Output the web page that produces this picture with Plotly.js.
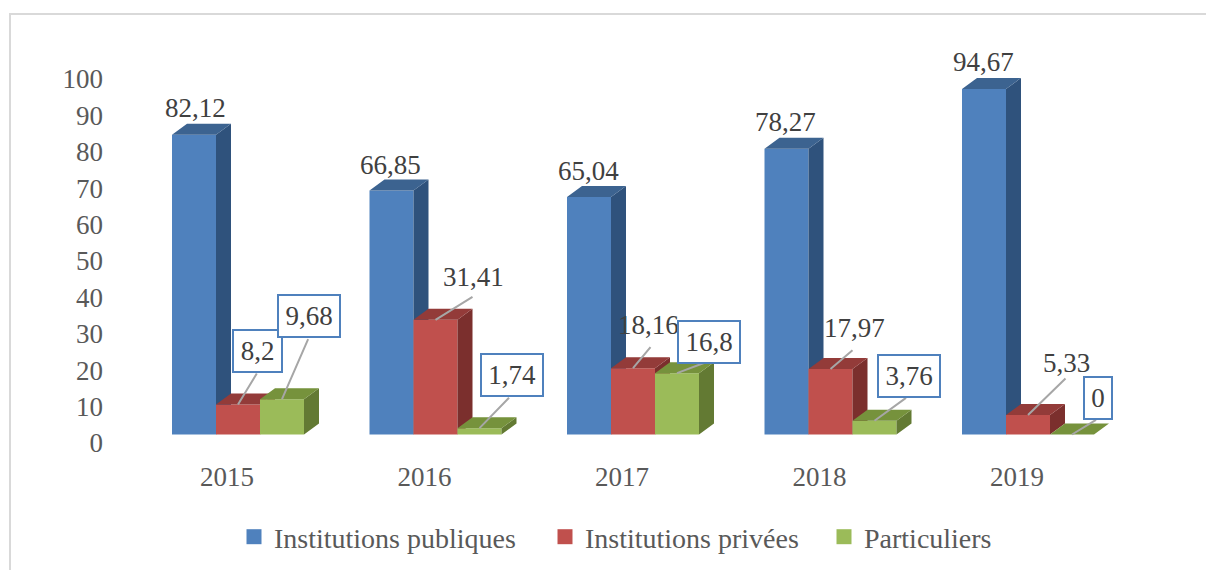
<!DOCTYPE html>
<html><head><meta charset="utf-8">
<script src="https://cdn.plot.ly/plotly-3.0.1.min.js"></script>
<style>html,body{margin:0;padding:0;background:#fff;overflow:hidden}</style>
</head><body><div id="chart" style="width:1206px;height:570px"></div>
<script>
// ---- data ----
const years = ['2015','2016','2017','2018','2019'];
const publiques = [82.12,66.85,65.04,78.27,94.67];
const privees = [8.2,31.41,18.16,17.97,5.33];
const particuliers = [9.68,1.74,16.8,3.76,0];
const seriesNames = ['Institutions publiques','Institutions privées','Particuliers'];
const tickValues = [0,10,20,30,40,50,60,70,80,90,100];

// ---- geometry of the page ----
const W=1206,H=570, L=104,R=1190,T=60,B=458;
const pxPerYear=197.5, firstCenter=238;
const barPx=44, depthX=15, depthY=11;
const frontBase=434.5, frontScale=3.65;   // bars
const tickBase=443, tickScale=3.64;       // value-axis labels sit lower than the front plane
const xRange=[(L-firstCenter)/pxPerYear,(R-firstCenter)/pxPerYear];
const barRange=[(frontBase-B)/frontScale,(frontBase-T)/frontScale];
const tickRange=[(tickBase-B)/tickScale,(tickBase-T)/tickScale];
const w=barPx/pxPerYear, dx=depthX/pxPerYear, dy=depthY/frontScale;
const idx=years.map((_,i)=>i);

const styles=[
 {front:'#4f81bd',side:'#2f527c',top:'#3c6390',off:-1.5*w},
 {front:'#c0504d',side:'#7b2f2d',top:'#933b39',off:-0.5*w},
 {front:'#9bbb59',side:'#637a33',top:'#76923c',off:0.5*w}
];
const allValues=[publiques,privees,particuliers];

function poly(kind,off){
  return function(values){
    const xs=[],ys=[];
    values.forEach((v,i)=>{
      const a=i+off,b=a+w;
      if(kind==='top'){ xs.push(a,b,b+dx,a+dx,a,null); ys.push(v,v,v+dy,v+dy,v,null); }
      else { xs.push(b,b+dx,b+dx,b,b,null); ys.push(0,dy,v+dy,v,0,null); }
    });
    return {xs,ys};
  };
}
const traces=[];
// swatches for legends on the base subplot
styles.forEach((s,k)=>{
  traces.push({type:'scatter',mode:'markers',x:[null],y:[null],name:seriesNames[k],
    legend:k===0?'legend':'legend'+(k+1),
    marker:{symbol:'square',size:15,color:s.front},hoverinfo:'skip',showlegend:true});
});
// one overlay subplot per series, painted back to front
styles.forEach((s,k)=>{
  const xa='x'+(k+2), ya='y'+(k+2), vals=allValues[k];
  ['side','top'].forEach(kind=>{
    const p=poly(kind,s.off)(vals);
    traces.push({type:'scatter',mode:'lines',x:p.xs,y:p.ys,xaxis:xa,yaxis:ya,fill:'toself',
      fillcolor:s[kind],line:{width:0,color:s[kind]},showlegend:false,hoverinfo:'skip'});
  });
  traces.push({type:'bar',x:idx,y:vals,xaxis:xa,yaxis:ya,width:w,offset:s.off,name:seriesNames[k],
    marker:{color:s.front,line:{width:0}},showlegend:false,hoverinfo:'skip'});
});

// ---- data labels (pixel offsets from each bar's top-front centre), indexed [year][series] ----
const boxed=[
 [false,true,true],[false,false,true],[false,false,true],[false,false,true],[false,false,true]
];
const labelOffsets=[
 [[1,-27],[19.5,-53.5],[27,-83]],
 [[-1,-26],[37.5,-43],[32,-53]],
 [[-1,-26],[15,-43],[32,-31]],
 [[-1,-27],[24,-41],[34,-45]],
 [[-1,-27],[38,-52],[26,-37]]
];
const leaderEnds=[
 [null,[20,-33],[27,-62]],
 [null,[38.5,-24],[31,-32]],
 [null,[19,-23],[29,-11]],
 [null,[23.5,-20],[33,-24]],
 [null,[39,-38],[25.5,-15.5]]
];
const annotations=[], labelAnnotations=[];
allValues.forEach((vals,k)=>{
  vals.forEach((v,i)=>{
    const off=labelOffsets[i][k], box=boxed[i][k], end=leaderEnds[i][k];
    const base={xref:'x'+(k+2),yref:'y'+(k+2),x:i+styles[k].off+w/2,y:v};
    const text=String(v).replace('.',',');
    if(end){
      annotations.push(Object.assign({},base,{text:' ',showarrow:true,arrowhead:0,arrowwidth:2,arrowcolor:'#a6a6a6',
        axref:'pixel',ayref:'pixel',ax:end[0],ay:end[1],standoff:0,startstandoff:0,
        font:{family:'Liberation Serif',size:1}}));
    }
    const a=Object.assign({},base,{text,showarrow:false,xshift:off[0],yshift:-off[1],
      font:{family:'Liberation Serif',size:27,color:'#404040'}});
    if(box){
      Object.assign(a,{bordercolor:'#4f81bd',borderwidth:2,bgcolor:'#ffffff',borderpad:5,
        width:text.length===1?16:(text.length===3&&text==='8,2'?37:50)});
    }
    labelAnnotations.push(a);
  });
});

const hidden=(r,extra)=>Object.assign({range:r,visible:false,fixedrange:true},extra);
const fontTick={family:'Liberation Serif',size:27,color:'#595959'};
const fontLegend={family:'Liberation Serif',size:28,color:'#595959'};
const legendBase=(px,py)=>({x:(px-L)/(R-L),y:(B-py)/(B-T),xanchor:'left',yanchor:'middle',
  orientation:'h',bgcolor:'rgba(0,0,0,0)',font:fontLegend,itemclick:false,itemdoubleclick:false,
  borderwidth:0,tracegroupgap:0});
const layout={
  width:W,height:H,autosize:false,
  paper_bgcolor:'#fff',plot_bgcolor:'rgba(0,0,0,0)',
  margin:{l:L,r:W-R,t:T,b:H-B,pad:0,autoexpand:false},
  showlegend:true,
  hovermode:false,
  xaxis:{range:xRange,type:'linear',tickmode:'array',tickvals:idx.map(i=>i-11/pxPerYear),ticktext:years,
    showgrid:false,zeroline:false,showline:false,ticks:'',tickfont:fontTick,fixedrange:true},
  yaxis:{range:tickRange,tickmode:'array',tickvals:tickValues,ticktext:tickValues.map(String),
    showgrid:false,zeroline:false,showline:false,ticks:'',tickfont:fontTick,fixedrange:true},
  legend:legendBase(234,537),
  legend2:legendBase(545,537),
  legend3:legendBase(824,537),
  annotations:annotations.concat(labelAnnotations),
  shapes:[{type:'path',xref:'paper',yref:'paper',
    path:'M '+((10-L)/(R-L))+' '+((B-575)/(B-T))+' L '+((10-L)/(R-L))+' '+((B-14)/(B-T))+' L '+((1210-L)/(R-L))+' '+((B-14)/(B-T)),
    line:{color:'#d9d9d9',width:2}}]
};
[2,3,4].forEach(n=>{
  layout['xaxis'+n]=hidden(xRange,{overlaying:'x',anchor:'y'+n,type:'linear'});
  layout['yaxis'+n]=hidden(barRange,{overlaying:'y',anchor:'x'+n});
});
Plotly.newPlot('chart',traces,layout,{displayModeBar:false,staticPlot:true});
</script></body></html>
